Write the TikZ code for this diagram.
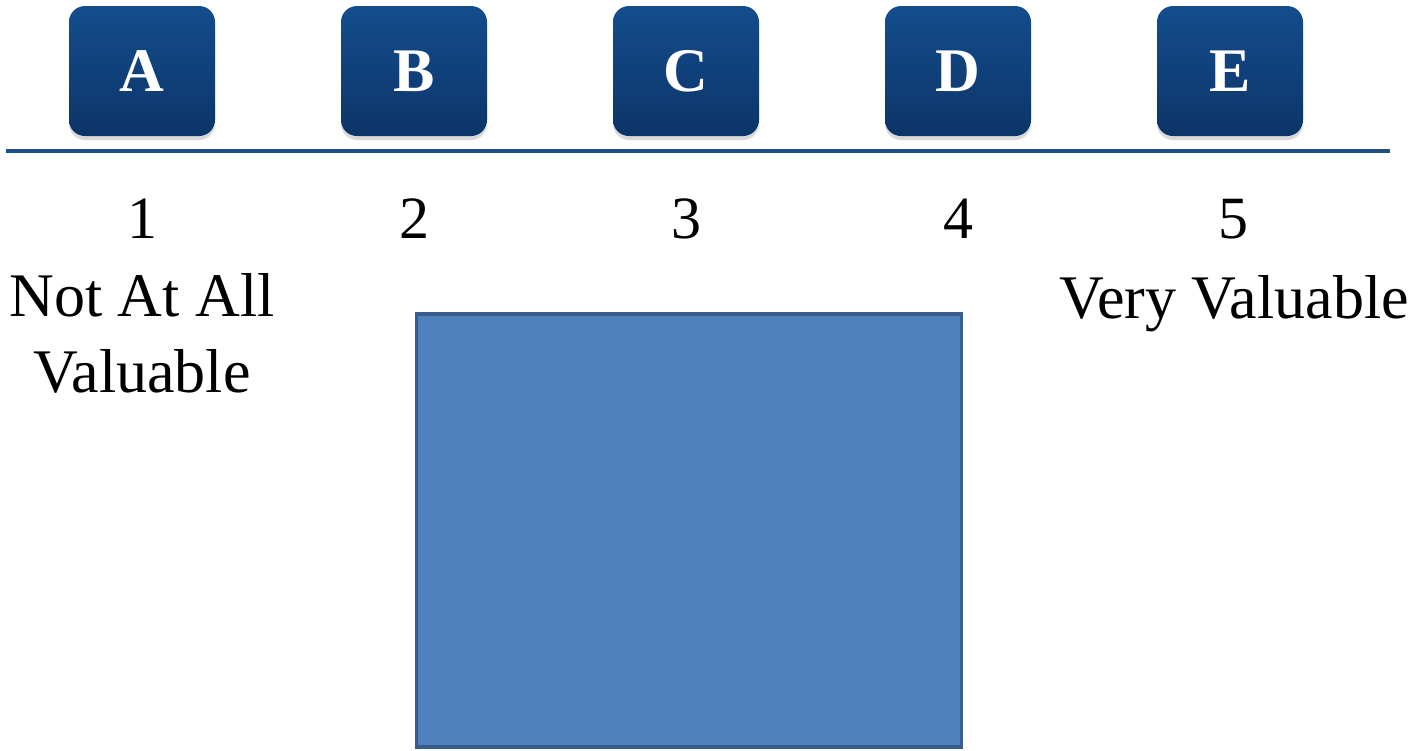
\documentclass[tikz,border=0pt]{standalone}
\usepackage{fontspec}
\setmainfont{Liberation Serif}
\usetikzlibrary{shadows}
\definecolor{boxtop}{HTML}{144C8D}
\definecolor{boxbot}{HTML}{0C3568}
\definecolor{axisline}{HTML}{1F4E88}
\definecolor{rectfill}{HTML}{4F81BD}
\definecolor{rectline}{HTML}{385D8A}
\tikzset{
  letterbox/.style={rounded corners=16pt, minimum width=146pt, minimum height=130pt,
    top color=boxtop, bottom color=boxbot, draw=none, text=white,
    font=\fontsize{62}{70}\bfseries\selectfont, inner sep=0pt,
    drop shadow={opacity=0.25, shadow xshift=0pt, shadow yshift=-4pt, fill=black!60}},
  numlabel/.style={anchor=base, inner sep=0pt, font=\fontsize{60}{72}\selectfont},
  desclabel/.style={anchor=base, inner sep=0pt, align=center, font=\fontsize{62}{76}\selectfont}
}
\begin{document}
\begin{tikzpicture}[x=1pt, y=-1pt]
\useasboundingbox (0,0) rectangle (1422,750);
\foreach \n/\l/\x in {a/A/142, b/B/414, c/C/686, d/D/958, e/E/1230} {
  \node[letterbox] (box\n) at (\x,71) {\l};
}
\coordinate (lineL) at (6,151);
\coordinate (lineR) at (1390,151);
\draw[axisline, line width=4pt] (lineL) -- (lineR);
\node[numlabel] (n1) at (142,238) {1};
\node[numlabel] (n2) at (414,238) {2};
\node[numlabel] (n3) at (686,238) {3};
\node[numlabel] (n4) at (958,238) {4};
\node[numlabel] (n5) at (1233,238) {5};
\node[desclabel] (low) at (142,392) {Not At All\\Valuable};
\node[desclabel] (high) at (1234,318) {Very Valuable};
\node[draw=rectline, fill=rectfill, line width=3.5pt, minimum width=545pt, minimum height=433pt, inner sep=0pt] (rect) at (689,530.5) {};
\end{tikzpicture}
\end{document}
